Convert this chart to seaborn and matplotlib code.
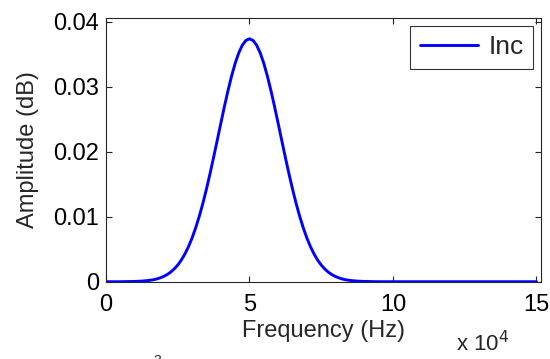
import numpy as np
import pandas as pd
import matplotlib
matplotlib.use("Agg")
import matplotlib.pyplot as plt
import seaborn as sns

# frequency samples (x 10^3 Hz) and amplitude (dB)
freq_khz = [0, 5, 10, 12.5,
            15, 16.25, 17.5, 18.75, 20, 21.25, 22.5, 23.75, 25, 26.25,
            27.5, 28.75, 30, 31.25, 32.5, 33.75, 35, 36.25, 37.5, 38.75,
            40, 41.25, 42.5, 43.75, 45, 46.25, 47.5, 48.75, 50, 51.25,
            52.5, 53.75, 55, 56.25, 57.5, 58.75, 60, 61.25, 62.5, 63.75,
            65, 66.25, 67.5, 68.75, 70, 71.25, 72.5, 73.75, 75, 76.25,
            77.5, 78.75, 80, 81.25, 82.5, 83.75, 85,
            87.5, 90, 95, 100, 110, 120, 130, 140, 150]
amp_db = [0, 0, 0.00004, 0.00009,
          0.00020, 0.00028, 0.00040, 0.00057, 0.00079, 0.00108, 0.00146,
          0.00195, 0.00256, 0.00333, 0.00426, 0.00539, 0.00672, 0.00828,
          0.01005, 0.01204, 0.01424, 0.01661, 0.01912, 0.02171, 0.02433,
          0.02690, 0.02935, 0.03159, 0.03356, 0.03517, 0.03636, 0.03710,
          0.03735, 0.03710, 0.03636, 0.03517, 0.03356, 0.03159, 0.02935,
          0.02690, 0.02433, 0.02171, 0.01912, 0.01661, 0.01424, 0.01204,
          0.01005, 0.00828, 0.00672, 0.00539, 0.00426, 0.00333, 0.00256,
          0.00195, 0.00146, 0.00108, 0.00079, 0.00057, 0.00040, 0.00028,
          0.00020,
          0.00009, 0.00004, 0, 0, 0, 0, 0, 0, 0]

x_ticks = [0, 5e4, 1e5, 1.5e5]
x_ticklabels = ["0", "5", "10", "15"]
y_ticks = [0, 0.01, 0.02, 0.03, 0.04]
y_ticklabels = ["0", "0.01", "0.02", "0.03", "0.04"]

df = pd.DataFrame({"freq": np.array(freq_khz) * 1000, "amp": amp_db})

sns.set_style("ticks")
plt.rcParams["font.family"] = ["Liberation Sans", "DejaVu Sans"]

fig = plt.figure(figsize=(5.5, 3.59), dpi=100)
ax = fig.add_axes([0.1927, 0.2153, 0.7903, 0.7337])

sns.lineplot(data=df, x="freq", y="amp", ax=ax, color="#0000ff",
             linewidth=2.1, label="Inc")

ax.set_xlim(0, 151460)
ax.set_ylim(0, 0.0405)
ax.set_xticks(x_ticks)
ax.set_xticklabels(x_ticklabels)
ax.set_yticks(y_ticks)
ax.set_yticklabels(y_ticklabels)
ax.tick_params(direction="in", length=4, width=0.8, labelsize=17,
               top=True, right=True, colors="#262626", labelcolor="black")
ax.tick_params(axis="x", pad=9)
ax.tick_params(axis="y", pad=5)
for s in ax.spines.values():
    s.set_visible(True)
    s.set_color("#262626")
    s.set_linewidth(0.8)

ax.set_xlabel("Frequency (Hz)", fontsize=17, labelpad=3)
ax.set_ylabel("Amplitude (dB)", fontsize=17, labelpad=10)

leg = ax.legend(loc="upper right", fontsize=19, frameon=True, fancybox=False,
                handlelength=2.2, handletextpad=0.4, borderpad=0.35,
                borderaxespad=0.3)
leg.get_frame().set_edgecolor("black")
leg.get_frame().set_linewidth(0.8)

fig.text(0.83, 0.008, r"x 10$^{4}$", fontsize=16, ha="left", va="bottom")
# cut-off superscript fragment visible at the bottom edge of the reference
fig.text(157 / 550, 0.014, "3", fontsize=10, ha="center", va="top")

fig.savefig("out.png", dpi=100)
